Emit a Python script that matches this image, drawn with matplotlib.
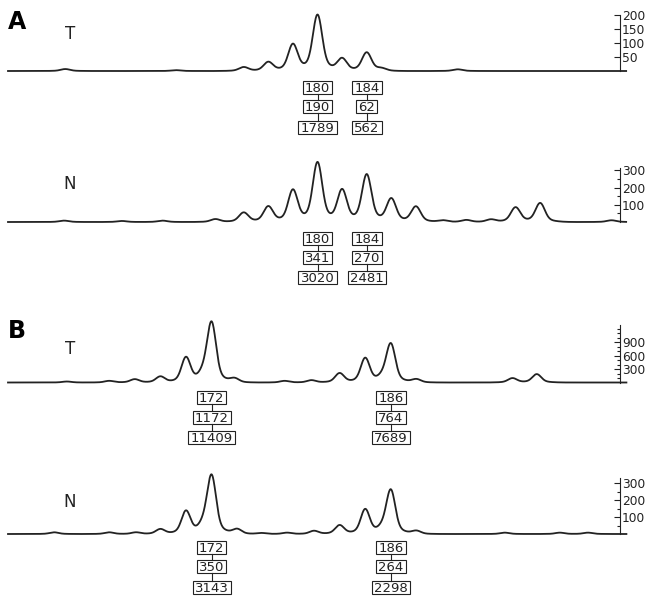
import numpy as np
import matplotlib
matplotlib.use("Agg")
import matplotlib.pyplot as plt
from matplotlib.patches import Rectangle
from matplotlib.lines import Line2D
from matplotlib.transforms import IdentityTransform


W, H = 647, 599
X_LEFT, X_SPINE = 8, 620
INK = "#222222"

# ---- panel A (allele sizes in bp, heights in axis units) ----
A_XLIM = (154.84, 204.59)

A_T_PEAK_BP = [159.5, 168.5, 174, 176, 178, 180, 182, 184, 185.2, 191.4]
A_T_PEAK_H = [7, 3, 14, 32, 95, 200, 44, 66, 8, 6]
A_T_SIZE = [180, 184]
A_T_HEIGHT = [190, 62]
A_T_AREA = [1789, 562]

A_N_PEAK_BP = [159.4, 164.1, 167.4, 171.7, 174, 176, 178, 180, 182, 184,
               186, 188, 190.2, 192.1, 194.1, 196.1, 198.1, 203.9]
A_N_PEAK_H = [8, 6, 8, 17, 55, 90, 185, 345, 185, 275,
              135, 90, 10, 12, 15, 85, 110, 10]
A_N_SIZE = [180, 184]
A_N_HEIGHT = [341, 270]
A_N_AREA = [3020, 2481]

# ---- panel B ----
B_XLIM = (156.1, 203.9)

B_T_PEAK_BP = [160.7, 164, 166, 168, 170, 171.35, 172, 173.8, 177.7, 179.8,
               182, 184, 185.35, 186, 188, 195.5, 197.4]
B_T_PEAK_H = [22, 37, 74, 134, 557, 150, 1322, 89, 37, 52,
              208, 542, 90, 854, 74, 97, 186]
B_T_SIZE = [172, 186]
B_T_HEIGHT = [1172, 764]
B_T_AREA = [11409, 7689]

B_N_PEAK_BP = [159.7, 164, 166.1, 168, 170, 171.35, 172, 174, 175.9, 177.9,
               180, 182, 184, 185.35, 186, 188, 194.9, 199.2, 201.4]
B_N_PEAK_H = [10, 10, 10, 29, 135, 40, 341, 29, 6, 8,
              19, 52, 145, 25, 257, 19, 8, 8, 8]
B_N_SIZE = [172, 186]
B_N_HEIGHT = [350, 264]
B_N_AREA = [3143, 2298]


def trace(x, peak_bp, peak_h, sigma, skirt=0.15):
    y = np.zeros_like(x)
    for p, h in zip(peak_bp, peak_h):
        d2 = (x - p) ** 2
        y += h * ((1 - skirt) * np.exp(-d2 / (2 * sigma ** 2))
                  + skirt * np.exp(-d2 / (2 * (2.5 * sigma) ** 2)))
    return y


def pix(x, y):
    # pixel from top-left -> display coords
    return x, H - y


def draw_panel(fig, base, top, xlim, ymax, major, minor, peak_bp, peak_h, sigma):
    ax = fig.add_axes([X_LEFT / W, 1 - base / H,
                       (X_SPINE - X_LEFT) / W, (base - top) / H])
    ax.patch.set_alpha(0)
    for side in ["left", "top", "bottom"]:
        ax.spines[side].set_visible(False)
    ax.spines["right"].set_color(INK)
    ax.spines["right"].set_linewidth(0.8)
    ax.set_xlim(*xlim)
    ax.set_ylim(0, ymax)
    ax.set_xticks([])
    ax.yaxis.tick_right()
    ax.set_yticks(major)
    ax.set_yticks(minor, minor=True)
    ax.tick_params(axis="y", which="both", direction="in", colors=INK,
                   labelsize=8.8, pad=1.5, width=0.8)
    ax.tick_params(axis="y", which="major", length=4)
    ax.tick_params(axis="y", which="minor", length=2.5)

    x = np.linspace(xlim[0], xlim[1] + 0.5, 2500)
    ax.plot(x, trace(x, peak_bp, peak_h, sigma), color=INK, lw=1.3,
            clip_on=False)
    return ax


def label_column(fig, ax, size, rows, row_y):
    cx = ax.transData.transform((size, 0))[0]
    box_h = 13
    for i, (txt, cy) in enumerate(zip(rows, row_y)):
        w = 8.4 * len(txt) + 4.5
        _, dy = pix(0, cy)
        fig.add_artist(Rectangle((cx - w / 2, dy - box_h / 2), w, box_h,
                                 transform=IdentityTransform(),
                                 facecolor="white", edgecolor=INK, lw=0.8))
        fig.text(cx, dy - 4.6, txt, transform=IdentityTransform(),
                 ha="center", va="baseline", fontsize=9.5, color=INK)
        if i > 0:
            _, y0 = pix(0, row_y[i - 1] + box_h / 2)
            _, y1 = pix(0, cy - box_h / 2)
            fig.add_artist(Line2D([cx, cx], [y0, y1],
                                  transform=IdentityTransform(),
                                  color=INK, lw=0.8))


def main():
    fig = plt.figure(figsize=(W / 100, H / 100), dpi=100)

    panels = [
        # base, top, xlim, ymax, major, minor, peaks, heights, sigma,
        # sizes, h, area, box rows, tag, tag y
        (71, 15, A_XLIM, 200, [50, 100, 150, 200], [],
         A_T_PEAK_BP, A_T_PEAK_H, 0.36, A_T_SIZE, A_T_HEIGHT, A_T_AREA,
         [87, 106, 127], "T", 34),
        (222, 168, A_XLIM, 314, [100, 200, 300], [50, 150, 250],
         A_N_PEAK_BP, A_N_PEAK_H, 0.36, A_N_SIZE, A_N_HEIGHT, A_N_AREA,
         [238, 257, 277], "N", 184),
        (382.5, 325, B_XLIM, 1280, [300, 600, 900],
         [100, 200, 400, 500, 700, 800, 1000, 1100, 1200],
         B_T_PEAK_BP, B_T_PEAK_H, 0.33, B_T_SIZE, B_T_HEIGHT, B_T_AREA,
         [397, 417, 437], "T", 349),
        (534, 478, B_XLIM, 330, [100, 200, 300], [50, 150, 250],
         B_N_PEAK_BP, B_N_PEAK_H, 0.33, B_N_SIZE, B_N_HEIGHT, B_N_AREA,
         [547, 566, 587], "N", 502),
    ]

    for (base, top, xlim, ymax, major, minor, pbp, ph, sigma, sizes,
         heights, areas, row_y, tag, tag_y) in panels:
        ax = draw_panel(fig, base, top, xlim, ymax, major, minor, pbp, ph,
                        sigma)
        for s, h, a in zip(sizes, heights, areas):
            label_column(fig, ax, s, [str(s), str(h), str(a)], row_y)
        fig.text(70 / W, 1 - tag_y / H, tag, ha="center", va="center",
                 fontsize=12, color=INK)

    fig.text(8 / W, 1 - 22 / H, "A", ha="left", va="center",
             fontsize=17, fontweight="bold", color="black")
    fig.text(8 / W, 1 - 331 / H, "B", ha="left", va="center",
             fontsize=17, fontweight="bold", color="black")

    fig.savefig("out.png", dpi=100)
    plt.close(fig)


if __name__ == "__main__":
    main()
